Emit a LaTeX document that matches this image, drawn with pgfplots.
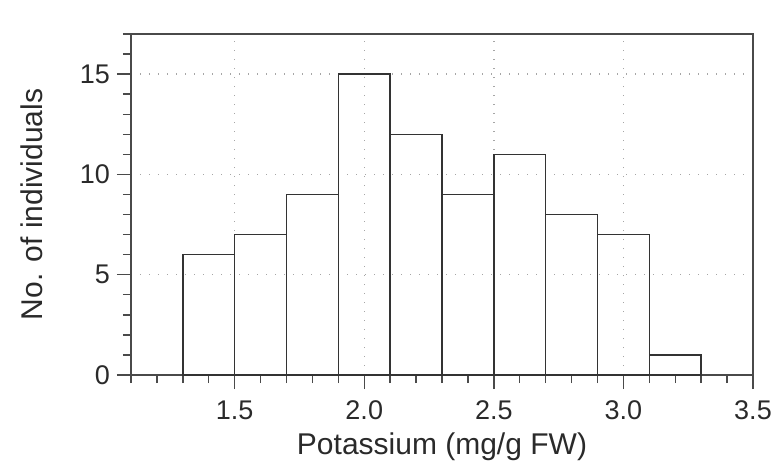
\documentclass[border=0pt]{standalone}
\usepackage{pgfplots}
\pgfplotsset{compat=1.18}
\usepackage{fontspec}
\setmainfont{Liberation Sans}
\definecolor{axgray}{HTML}{4A4A4A}
\definecolor{txtgray}{HTML}{2A2A2A}
\begin{document}
\begin{tikzpicture}
\useasboundingbox (-65.5pt,-48.5pt) rectangle (322.5pt,187.5pt);
\begin{axis}[
  at={(0,0)}, anchor=south west,
  scale only axis, width=311pt, height=170.5pt,
  xmin=1.1, xmax=3.5, ymin=0, ymax=17,
  xtick={1.5,2.0,2.5,3.0,3.5},
  xticklabels={1.5,2.0,2.5,3.0,3.5},
  ytick={0,5,10,15},
  minor xtick={1.1,1.2,...,3.45},
  minor ytick={1,2,...,17},
  tick align=outside,
  major tick length=7pt, minor tick length=4pt,
  axis x line*=bottom, axis y line*=left,
  axis line style={axgray, line width=0.8pt},
  every tick/.style={axgray, line width=0.7pt},
  grid=major,
  major grid style={gray!70, line width=0.7pt, dash pattern=on 0.7pt off 3.8pt},
  /pgf/number format/assume math mode=true,
  tick label style={font=\fontsize{13.5}{15}\selectfont, text=txtgray},
  xticklabel style={yshift=-2.5pt},
  label style={font=\fontsize{15}{17}\selectfont, text=txtgray},
  xlabel={Potassium (mg/g FW)},
  ylabel={No. of individuals},
  xlabel style={at={(axis description cs:0.5,0)}, anchor=base, yshift=-39.5pt},
  ylabel style={at={(axis description cs:0,0.5)}, anchor=base, yshift=44pt},
  clip=false,
]
\addplot[ybar interval, draw=black!80, line width=0.7pt, fill=none]
  coordinates {(1.3,6) (1.5,7) (1.7,9) (1.9,15) (2.1,12) (2.3,9) (2.5,11) (2.7,8) (2.9,7) (3.1,1) (3.3,1)};
\draw[axgray, line width=0.8pt] (axis cs:1.1,17) -- (axis cs:3.5,17) -- (axis cs:3.5,0);
\end{axis}
\end{tikzpicture}
\end{document}
